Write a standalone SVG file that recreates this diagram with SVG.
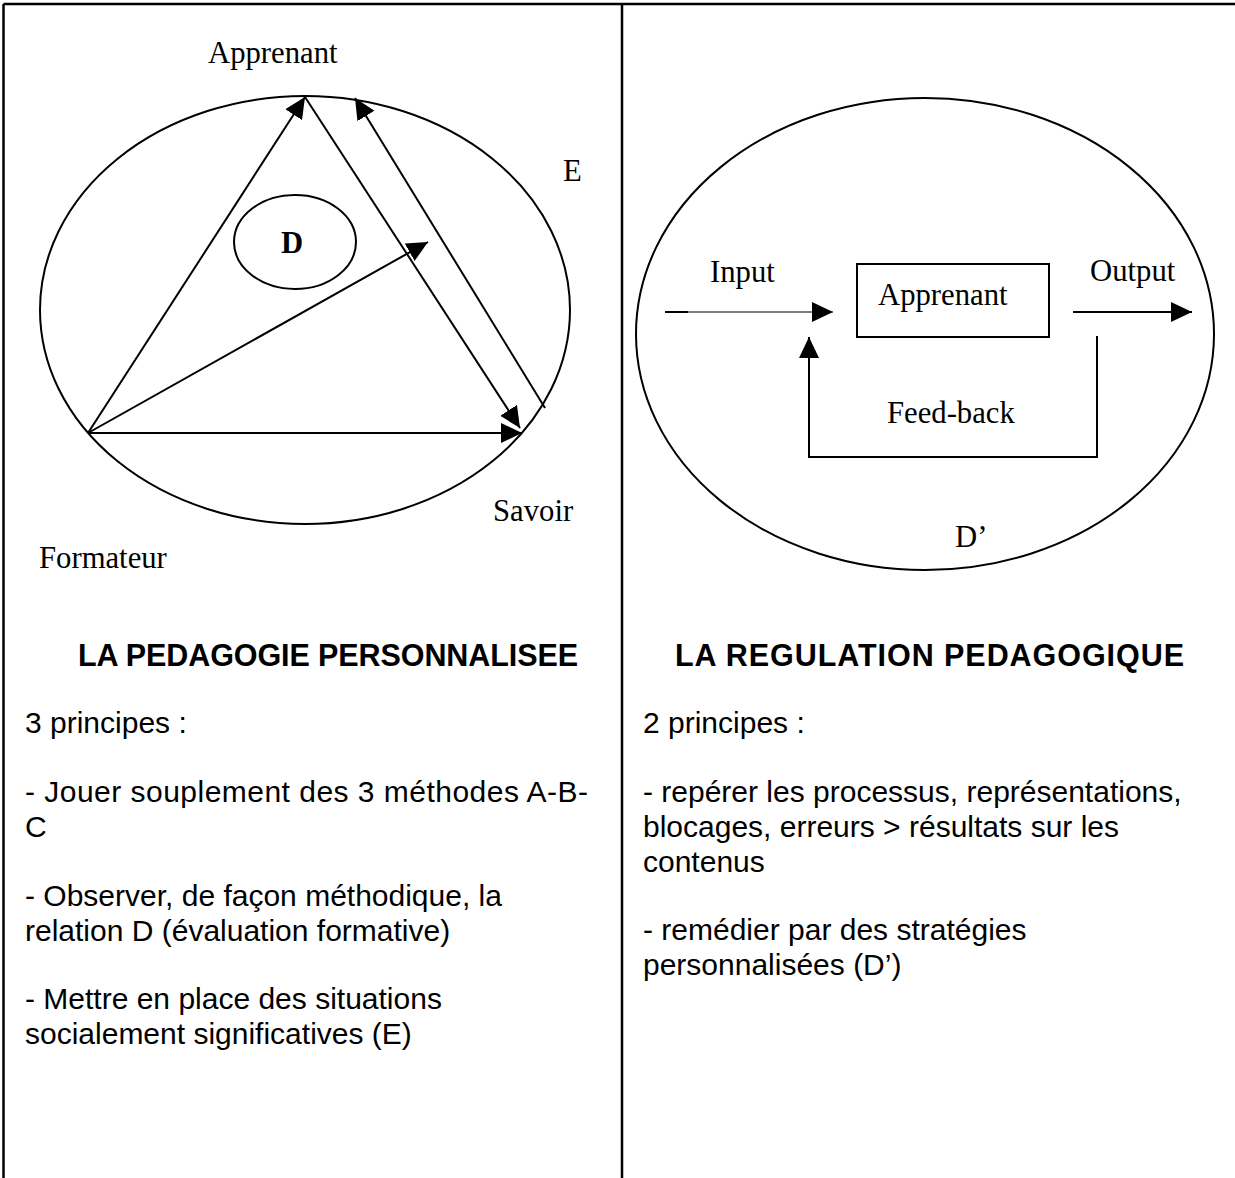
<svg xmlns="http://www.w3.org/2000/svg" width="1235" height="1178" viewBox="0 0 1235 1178">
<style>
.ln{stroke:#000;stroke-width:2;fill:none}
.tb{stroke:#000;stroke-width:2.5;fill:none}
.tm{font-family:"Liberation Serif","Times New Roman",serif;font-size:30.7px;fill:#000}
.hd{font-family:"Liberation Sans",Arial,sans-serif;font-size:30.5px;font-weight:bold;fill:#000}
.bd{font-family:"Liberation Sans",Arial,sans-serif;font-size:30px;fill:#000}
</style>
<defs>
<marker id="ah" markerWidth="22" markerHeight="22" viewBox="0 0 22 22" refX="21" refY="11" orient="auto" markerUnits="userSpaceOnUse">
<path d="M0,1 L21,11 L0,21 Z" fill="#000"/>
</marker>
</defs>
<rect width="1235" height="1178" fill="#fff"/>
<g id="table">
<line class="tb" x1="3.5" y1="4" x2="1235" y2="4"/>
<line class="tb" x1="3.5" y1="4" x2="3.5" y2="1178"/>
<line class="tb" x1="622" y1="4" x2="622" y2="1178"/>
</g>
<g id="ellipse-E"><ellipse class="ln" cx="305" cy="310" rx="265" ry="214"/></g>
<g id="node-D"><ellipse class="ln" cx="295" cy="242" rx="61" ry="47"/><text class="tm" x="292" y="253" font-weight="bold" text-anchor="middle">D</text></g>
<g id="label-apprenant"><text class="tm" x="208" y="63">Apprenant</text></g>
<g id="label-formateur"><text class="tm" x="39" y="568">Formateur</text></g>
<g id="label-savoir"><text class="tm" x="493" y="521">Savoir</text></g>
<g id="label-E"><text class="tm" x="563" y="181">E</text></g>
<g id="ellipse-Dprime"><ellipse class="ln" cx="925" cy="334" rx="289" ry="236"/></g>
<g id="node-apprenant-box"><rect class="ln" x="857" y="264" width="192" height="73"/><text class="tm" x="878" y="305">Apprenant</text></g>
<g id="label-input"><text class="tm" x="710" y="282">Input</text></g>
<g id="label-output"><text class="tm" x="1090" y="281">Output</text></g>
<g id="label-feedback"><text class="tm" x="887" y="423">Feed-back</text></g>
<g id="label-dprime"><text class="tm" x="955" y="547">D’</text></g>
<g id="connectors">
<line class="ln" x1="88" y1="433" x2="305" y2="97" marker-end="url(#ah)"/>
<line class="ln" x1="305" y1="97" x2="520" y2="428" marker-end="url(#ah)"/>
<line class="ln" x1="88" y1="433" x2="522" y2="433" marker-end="url(#ah)"/>
<line class="ln" x1="88" y1="433" x2="428" y2="242" marker-end="url(#ah)"/>
<line class="ln" x1="545" y1="408" x2="355" y2="98" marker-end="url(#ah)"/>
<line stroke="#000" stroke-width="2" x1="665" y1="312" x2="688" y2="312"/>
<line stroke="#000" stroke-width="1.2" x1="688" y1="312" x2="833" y2="312" marker-end="url(#ah)"/>
<line class="ln" x1="1073" y1="312" x2="1192" y2="312" marker-end="url(#ah)"/>
<path class="ln" d="M1097,336 V457 H809 V337" marker-end="url(#ah)"/>
</g>
<g id="left-text">
<text class="hd" x="78" y="666" textLength="500" lengthAdjust="spacing">LA PEDAGOGIE PERSONNALISEE</text>
<text class="bd" x="25" y="733">3 principes :</text>
<text class="bd" x="25" y="802" textLength="563" lengthAdjust="spacing">- Jouer souplement des 3 méthodes A-B-</text>
<text class="bd" x="25" y="837">C</text>
<text class="bd" x="25" y="906">- Observer, de façon méthodique, la</text>
<text class="bd" x="25" y="941">relation D (évaluation formative)</text>
<text class="bd" x="25" y="1009">- Mettre en place des situations</text>
<text class="bd" x="25" y="1044">socialement significatives (E)</text>
</g>
<g id="right-text">
<text class="hd" x="675" y="666" textLength="509" lengthAdjust="spacing">LA REGULATION PEDAGOGIQUE</text>
<text class="bd" x="643" y="733">2 principes :</text>
<text class="bd" x="643" y="802">- repérer les processus, représentations,</text>
<text class="bd" x="643" y="837">blocages, erreurs &gt; résultats sur les</text>
<text class="bd" x="643" y="872">contenus</text>
<text class="bd" x="643" y="940">- remédier par des stratégies</text>
<text class="bd" x="643" y="975">personnalisées (D’)</text>
</g>
</svg>
